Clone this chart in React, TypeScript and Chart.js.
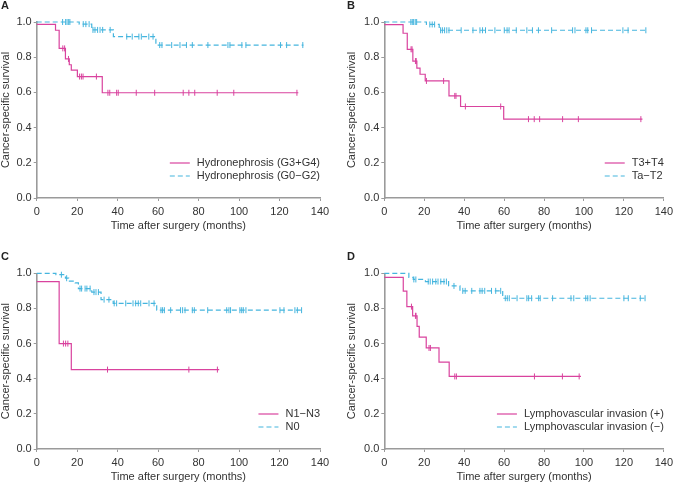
import React, { useEffect, useRef } from "react";
import { Chart, registerables } from "chart.js";
Chart.register(...registerables);

const X_TICKS = [0, 20, 40, 60, 80, 100, 120, 140];
const Y_TICKS = [0, 0.2, 0.4, 0.6, 0.8, 1.0];
const X_TITLE = "Time after surgery (months)";
const Y_TITLE = "Cancer-specific survival";

// Panel A
const A_LABELS = ["Hydronephrosis (G3+G4)", "Hydronephrosis (G0\u2212G2)"];
const A1_TIMES = [0, 9.3, 11.1, 14.2, 16.1, 17.1, 20.1, 32.4, 129.3];
const A1_SURV = [0.987, 0.953, 0.85, 0.79, 0.757, 0.727, 0.69, 0.598, 0.598];
const A1_CENSOR = [12.9, 13.8, 15.7, 21.2, 22.1, 22.9, 29.5, 35.2, 36.1, 39.5, 40.3, 49.2, 58.3, 72.4, 75.2, 78.1, 89.2, 97.4, 128.6];
const A2_TIMES = [0, 21.0, 27.2, 37.9, 58.9, 131.8];
const A2_SURV = [1.0, 0.988, 0.955, 0.917, 0.869, 0.869];
const A2_CENSOR = [12.8, 14.3, 15.0, 15.8, 16.4, 23.0, 24.3, 25.9, 27.8, 28.8, 30.1, 31.3, 32.6, 36.3, 44.5, 47.2, 50.5, 51.7, 55.4, 57.5, 60.8, 61.9, 66.7, 70.8, 74.0, 76.9, 84.6, 94.5, 95.5, 101.4, 103.4, 120.5, 123.5, 131.5];

// Panel B
const B_LABELS = ["T3+T4", "Ta\u2212T2"];
const B1_TIMES = [0, 9.4, 11.5, 14.3, 16.3, 17.9, 20.5, 32.4, 38.2, 59.8, 129.3];
const B1_SURV = [0.985, 0.936, 0.845, 0.778, 0.738, 0.703, 0.665, 0.58, 0.52, 0.448, 0.448];
const B1_CENSOR = [13.4, 13.9, 15.6, 16.0, 21.1, 29.7, 35.3, 35.9, 40.6, 58.3, 72.2, 75.1, 77.8, 89.3, 97.2, 128.5];
const B2_TIMES = [0, 21.1, 27.5, 131.3];
const B2_SURV = [1.0, 0.986, 0.953, 0.953];
const B2_CENSOR = [13.3, 14.0, 14.7, 15.5, 16.2, 22.8, 24.0, 25.2, 28.2, 29.1, 30.2, 31.3, 32.4, 38.5, 44.4, 47.9, 49.2, 50.7, 55.4, 60.1, 61.5, 62.5, 66.1, 71.4, 74.2, 77.2, 83.8, 94.3, 95.5, 101.0, 101.9, 103.8, 119.5, 122.1, 131.0];

// Panel C
const C_LABELS = ["N1\u2212N3", "N0"];
const C1_TIMES = [0, 11.1, 17.1, 90.2];
const C1_SURV = [0.953, 0.60, 0.452, 0.452];
const C1_CENSOR = [13.2, 14.3, 15.4, 35.0, 75.2, 89.3];
const C2_TIMES = [0, 9.5, 14.2, 15.8, 19.0, 20.6, 27.2, 31.8, 37.8, 59.3, 131.4];
const C2_SURV = [1.0, 0.992, 0.972, 0.955, 0.945, 0.913, 0.893, 0.85, 0.829, 0.79, 0.79];
const C2_CENSOR = [12.2, 14.8, 21.4, 22.2, 23.9, 24.8, 26.4, 28.3, 29.3, 30.5, 33.3, 35.7, 38.3, 39.5, 44.0, 47.6, 48.9, 50.2, 51.4, 55.5, 58.0, 61.4, 62.2, 63.1, 66.2, 71.1, 72.1, 73.3, 76.9, 77.9, 84.5, 93.9, 95.0, 95.8, 100.4, 101.3, 102.1, 103.4, 120.2, 122.2, 127.6, 128.8, 130.9];

// Panel D
const D_LABELS = ["Lymphovascular invasion (+)", "Lymphovascular invasion (\u2212)"];
const D1_TIMES = [0, 9.5, 11.3, 14.2, 16.4, 17.5, 21.0, 27.4, 32.5, 98.5];
const D1_SURV = [0.977, 0.898, 0.81, 0.758, 0.698, 0.637, 0.575, 0.495, 0.413, 0.413];
const D1_CENSOR = [13.6, 15.6, 15.9, 22.4, 23.1, 35.3, 36.1, 75.2, 89.2, 97.6];
const D2_TIMES = [0, 12.3, 14.5, 20.6, 32.2, 37.9, 59.3, 131.4];
const D2_SURV = [1.0, 0.977, 0.965, 0.953, 0.928, 0.90, 0.858, 0.858];
const D2_CENSOR = [14.8, 15.8, 22.0, 23.0, 24.2, 25.8, 26.9, 28.3, 29.9, 31.1, 34.9, 39.3, 40.5, 43.8, 47.9, 49.0, 50.3, 53.7, 55.8, 58.3, 60.6, 61.6, 62.6, 66.5, 71.4, 72.3, 73.8, 77.3, 78.1, 84.3, 93.5, 94.9, 100.9, 101.9, 103.1, 120.0, 122.2, 128.2, 130.6];

const MAGENTA = "#d9439e";
const CYAN = "#45b5de";
const FONT = '"Liberation Sans", Arial, Helvetica, sans-serif';
const TEXT = "#333333";
const AXIS = "#9a9a9a";

function survAt(times: number[], surv: number[], t: number) {
  let v = surv[0];
  for (let i = 0; i < times.length; i++) if (times[i] <= t) v = surv[i];
  return v;
}

const legendPlugin = {
  id: "kmLegend",
  afterDraw(chart: any) {
    const labels: string[] = chart.options.plugins.kmLegend?.labels;
    if (!labels) return;
    const { ctx, chartArea } = chart;
    ctx.save();
    ctx.font = `11px ${FONT}`;
    const maxW = Math.max(...labels.map((l) => ctx.measureText(l).width));
    const x0 = chartArea.right - (20 + 7 + maxW);
    const rows = [chartArea.bottom - 35, chartArea.bottom - 22];
    labels.forEach((lab, i) => {
      const y = rows[i];
      ctx.beginPath();
      ctx.strokeStyle = i === 0 ? MAGENTA : CYAN;
      ctx.lineWidth = 1.2;
      ctx.setLineDash(i === 0 ? [] : [5, 3]);
      ctx.moveTo(x0, y);
      ctx.lineTo(x0 + 20, y);
      ctx.stroke();
      ctx.setLineDash([]);
      ctx.fillStyle = TEXT;
      ctx.textBaseline = "middle";
      ctx.textAlign = "left";
      ctx.fillText(lab, x0 + 27, y);
    });
    ctx.restore();
  },
};

type PanelProps = {
  letter: string;
  labels: string[];
  t1: number[]; s1: number[]; c1: number[];
  t2: number[]; s2: number[]; c2: number[];
  left: number; top: number; width: number; height: number;
  padTop: number; padRight: number; yWidth: number;
};

function Panel(p: PanelProps) {
  const ref = useRef<HTMLCanvasElement>(null);
  useEffect(() => {
    if (!ref.current) return;
    const line = (times: number[], surv: number[], color: string, dash: number[]) => ({
      type: "line",
      data: times.map((t, i) => ({ x: t, y: surv[i] })),
      borderColor: color,
      borderWidth: 1.2,
      borderDash: dash,
      stepped: "before",
      pointRadius: 0,
      fill: false,
      clip: false,
      order: 2,
    });
    const cens = (times: number[], surv: number[], cs: number[], color: string) => ({
      type: "scatter",
      data: cs.map((t) => ({ x: t, y: survAt(times, surv, t) })),
      pointStyle: "line",
      rotation: 90,
      pointRotation: 90,
      pointRadius: 3,
      pointBorderWidth: 1,
      pointBorderColor: color,
      borderColor: color,
      backgroundColor: color,
      showLine: false,
      clip: false,
      order: 1,
    });
    const chart = new Chart(ref.current, {
      type: "line",
      data: {
        datasets: [
          line(p.t1, p.s1, MAGENTA, []),
          cens(p.t1, p.s1, p.c1, MAGENTA),
          line(p.t2, p.s2, CYAN, [5, 3]),
          cens(p.t2, p.s2, p.c2, CYAN),
        ] as any,
      },
      options: {
        animation: false,
        responsive: false,
        events: [],
        layout: { padding: { top: p.padTop, right: p.padRight, left: 0, bottom: 0 } },
        plugins: {
          legend: { display: false },
          tooltip: { enabled: false },
          kmLegend: { labels: p.labels },
        } as any,
        scales: {
          x: {
            type: "linear",
            min: 0,
            max: 140,
            afterBuildTicks: (s: any) => { s.ticks = X_TICKS.map((v) => ({ value: v })); },
            afterFit: (s: any) => { s.height = 34; },
            grid: { drawOnChartArea: false, drawTicks: true, tickLength: 3, color: AXIS, lineWidth: 1 },
            border: { display: true, color: AXIS, width: 1.6 },
            ticks: { color: TEXT, font: { family: FONT, size: 11 }, padding: 4, maxRotation: 0 },
            title: { display: true, text: X_TITLE, color: TEXT, font: { family: FONT, size: 11, lineHeight: 1.1 }, padding: 0 },
          },
          y: {
            type: "linear",
            min: 0,
            max: 1,
            afterBuildTicks: (s: any) => { s.ticks = Y_TICKS.map((v) => ({ value: v })); },
            afterFit: (s: any) => { s.width = p.yWidth; },
            grid: { drawOnChartArea: false, drawTicks: true, tickLength: 3, color: AXIS, lineWidth: 1 },
            border: { display: true, color: AXIS, width: 1.6 },
            ticks: { color: TEXT, font: { family: FONT, size: 11 }, padding: 2, callback: (v: any) => Number(v).toFixed(1) },
            title: { display: true, text: Y_TITLE, color: TEXT, font: { family: FONT, size: 11, lineHeight: 1.1 }, padding: 0 },
          },
        },
      } as any,
      plugins: [legendPlugin],
    });
    return () => chart.destroy();
  }, []);
  return (
    <>
      <canvas
        ref={ref}
        width={p.width}
        height={p.height}
        style={{ position: "absolute", left: p.left, top: p.top, width: p.width, height: p.height }}
      />
      <div
        style={{
          position: "absolute",
          left: p.left + 1,
          top: p.letter === "A" || p.letter === "B" ? 0 : 251,
          font: `bold 11px ${FONT}`,
          lineHeight: "11px",
          color: "#222",
        }}
      >
        {p.letter}
      </div>
    </>
  );
}

export default function App() {
  return (
    <div style={{ position: "fixed", left: 0, top: 0, width: 677, height: 483, background: "#fff", overflow: "hidden" }}>
      <Panel letter="A" labels={A_LABELS} t1={A1_TIMES} s1={A1_SURV} c1={A1_CENSOR} t2={A2_TIMES} s2={A2_SURV} c2={A2_CENSOR}
        left={0} top={0} width={338} height={232} padTop={22} padRight={18} yWidth={36.7} />
      <Panel letter="B" labels={B_LABELS} t1={B1_TIMES} s1={B1_SURV} c1={B1_CENSOR} t2={B2_TIMES} s2={B2_SURV} c2={B2_CENSOR}
        left={346} top={0} width={331} height={232} padTop={22} padRight={8.7} yWidth={38.3} />
      <Panel letter="C" labels={C_LABELS} t1={C1_TIMES} s1={C1_SURV} c1={C1_CENSOR} t2={C2_TIMES} s2={C2_SURV} c2={C2_CENSOR}
        left={0} top={240} width={338} height={243} padTop={33.3} padRight={18} yWidth={36.7} />
      <Panel letter="D" labels={D_LABELS} t1={D1_TIMES} s1={D1_SURV} c1={D1_CENSOR} t2={D2_TIMES} s2={D2_SURV} c2={D2_CENSOR}
        left={346} top={240} width={331} height={243} padTop={33.3} padRight={9} yWidth={38.3} />
    </div>
  );
}
